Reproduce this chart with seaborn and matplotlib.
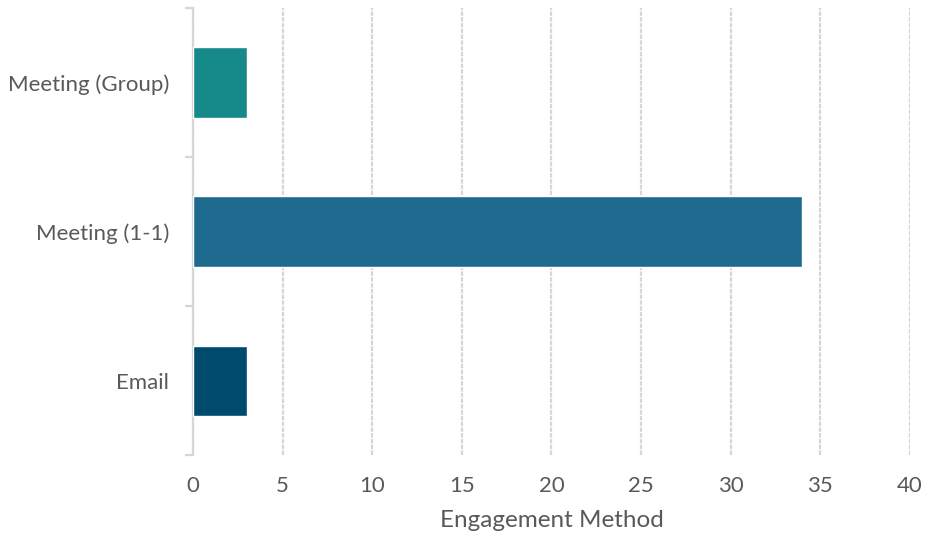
import pandas as pd
import matplotlib.pyplot as plt
import seaborn as sns

# Data
methods = ['Meeting (Group)', 'Meeting (1-1)', 'Email']
counts = [3, 34, 3]
colors = ['#168A8B', '#1F6A8F', '#004A6E']

df = pd.DataFrame({'method': methods, 'count': counts})

sns.set_style('white')
plt.rcParams['font.family'] = ['Lato', 'DejaVu Sans']

fig = plt.figure(figsize=(9.26, 5.43), dpi=100)
ax = fig.add_axes([0.2084, 0.162, 0.7743, 0.8233])

sns.barplot(data=df, x='count', y='method', hue='method', palette=colors,
            order=methods, width=0.47, edgecolor='white', linewidth=1,
            saturation=1, legend=False, ax=ax, zorder=3)

ax.set_xlim(0, 40)
ax.set_xticks(range(0, 41, 5))
ax.set_ylim(2.5, -0.5)
ax.grid(axis='x', color='#D6D6D6', linewidth=1.6, linestyle=(0, (2, 0.6)), zorder=0)
ax.grid(axis='y', visible=False)

for s in ['top', 'right', 'bottom']:
    ax.spines[s].set_visible(False)
ax.spines['left'].set_color('#D6D6D6')
ax.spines['left'].set_linewidth(1.6)

# category boundary ticks on the left axis
ax.set_yticks([-0.5, 0.5, 1.5, 2.5], minor=True)
ax.tick_params(axis='y', which='minor', length=6, width=1.6, color='#D6D6D6', left=True)
ax.tick_params(axis='y', which='major', length=0, pad=17, labelsize=16, labelcolor='#595959')
ax.tick_params(axis='x', length=0, pad=15, labelsize=16, labelcolor='#595959')

ax.set_ylabel('')
ax.set_xlabel('Engagement Method', fontsize=17.5, color='#595959', labelpad=10)

plt.savefig('out.png', dpi=100)
